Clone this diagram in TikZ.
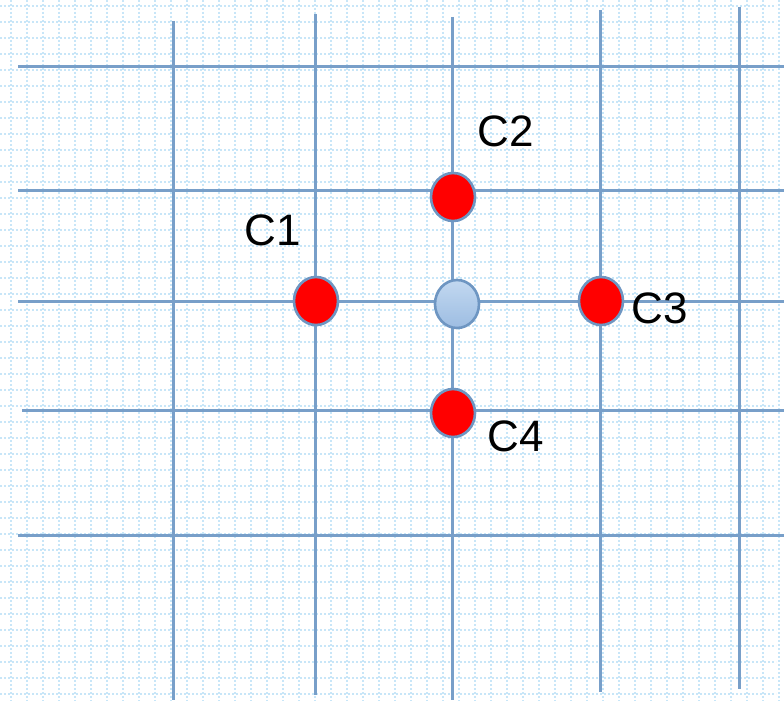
\documentclass[tikz,border=0pt]{standalone}
\usepackage{fontspec}
\setmainfont{Liberation Sans}
\usetikzlibrary{shapes.geometric}
\definecolor{gridline}{HTML}{789FC9}
\definecolor{paperdot}{HTML}{C8E6F8}
\definecolor{dotred}{HTML}{FF0000}
\definecolor{dotrim}{HTML}{6E96C2}
\definecolor{palesky}{HTML}{C2D8F0}
\definecolor{deepsky}{HTML}{9DBDE2}

\begin{document}
\begin{tikzpicture}[x=1pt,y=-1pt,
  paper/.style={paperdot, line width=1.3pt, dash pattern=on 2pt off 2pt},
  road/.style={gridline, line width=3pt},
  reddot/.style={ellipse, draw=dotrim, line width=2.6pt, fill=dotred, minimum width=44pt, minimum height=48pt, inner sep=0pt},
  bluedot/.style={ellipse, draw=dotrim, line width=2.6pt, top color=palesky, bottom color=deepsky, minimum width=44pt, minimum height=48pt, inner sep=0pt},
  tag/.style={font=\fontsize{44}{48}\selectfont, inner sep=0pt}]
\useasboundingbox (0,0) rectangle (784,701);
\fill[white] (0,0) rectangle (784,701);
% dotted paper
\foreach \x in {11,27,...,779} \draw[paper] (\x,0) -- (\x,701);
\foreach \y in {6,22,...,700} \draw[paper] (0,\y) -- (776,\y);
% grid lines
\draw[road] (173,21) -- (173,700);
\draw[road] (315,14) -- (315,695);
\draw[road] (452,17) -- (452,700);
\draw[road] (600,10) -- (600,692);
\draw[road] (739,7) -- (739,689);
\draw[road] (18,67) -- (784,67);
\draw[road] (18,190) -- (784,190);
\draw[road] (18,301) -- (784,301);
\draw[road] (22,410) -- (784,410);
\draw[road] (18,535) -- (784,535);
% points
\node[bluedot] (centre) at (457,304) {};
\node[reddot] (c1) at (316,301) {};
\node[reddot] (c2) at (453,197) {};
\node[reddot] (c3) at (601,301) {};
\node[reddot] (c4) at (453,413) {};
\node[tag] (l1) at (273,230) {C1};
\node[tag] (l2) at (506,131) {C2};
\node[tag] (l3) at (660,308) {C3};
\node[tag] (l4) at (516,436) {C4};
\end{tikzpicture}
\end{document}
